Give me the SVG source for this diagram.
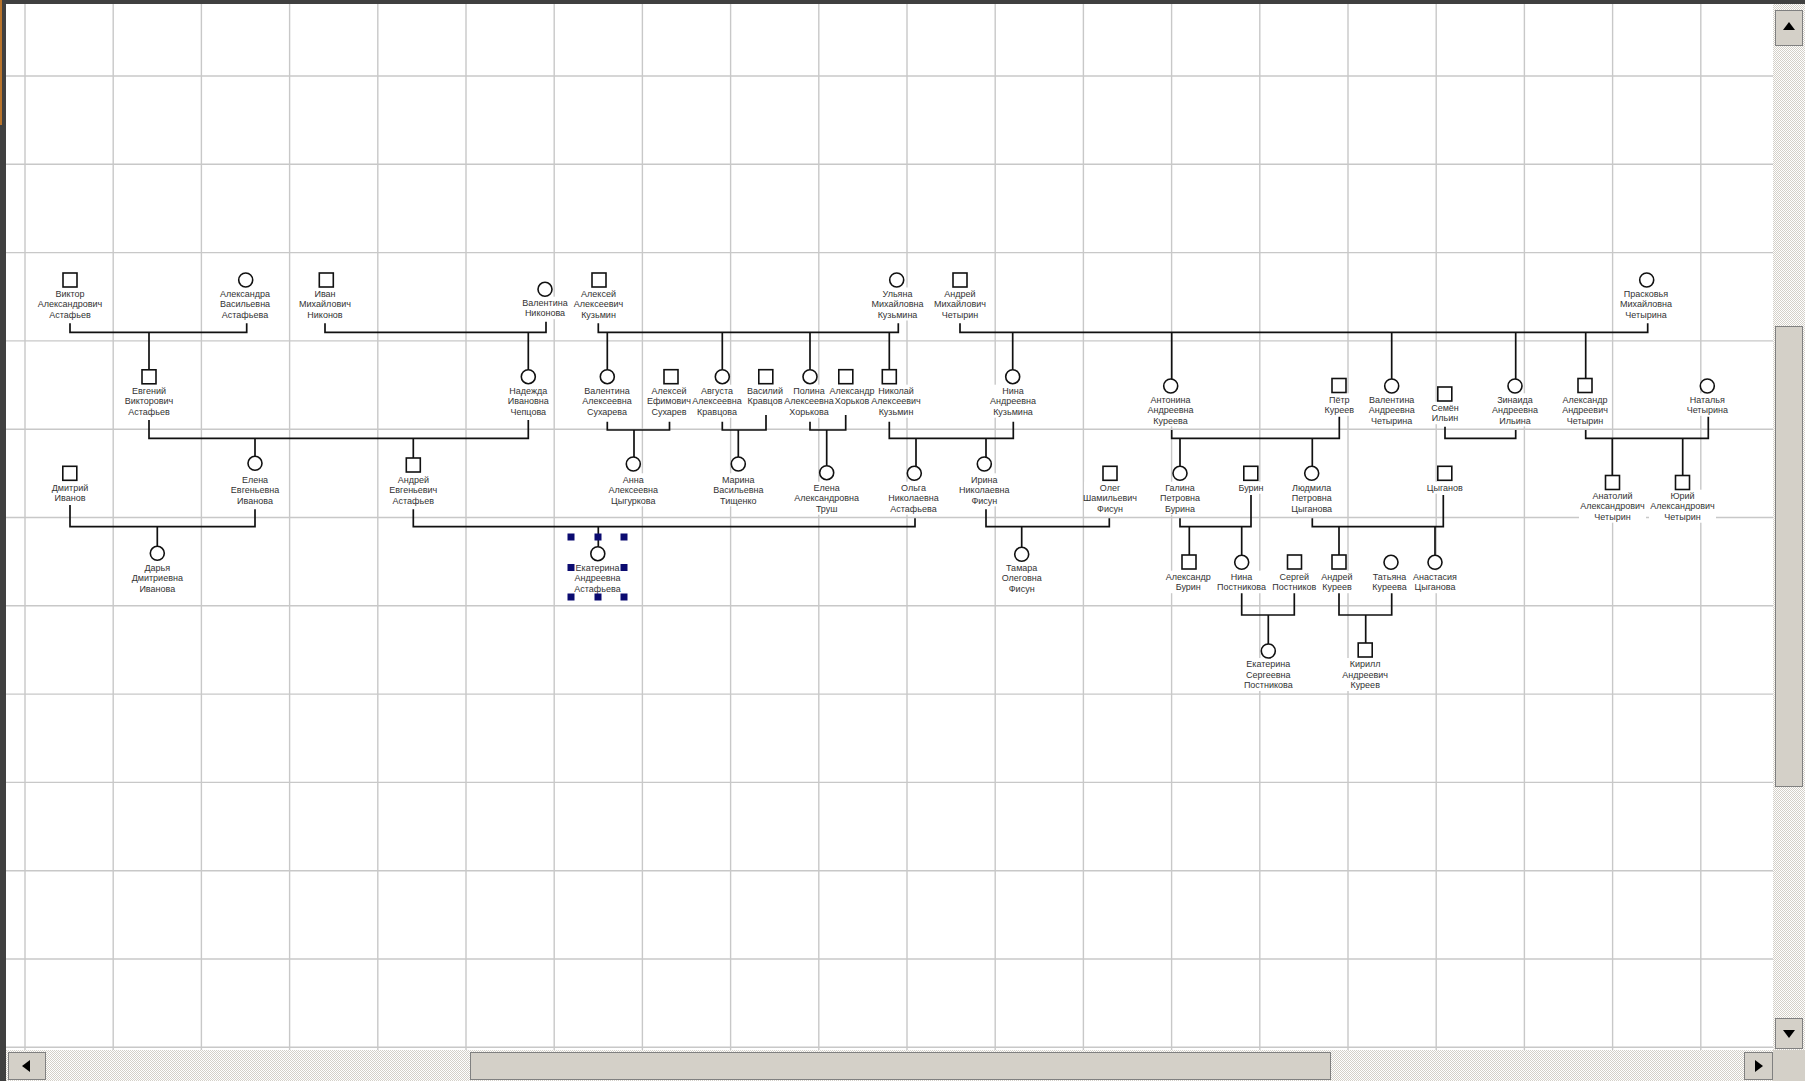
<svg xmlns="http://www.w3.org/2000/svg" width="1805" height="1081" viewBox="0 0 1805 1081">
<defs>
<style>
.t{font-family:"Liberation Sans",Arial,sans-serif;font-size:9px;fill:#333;text-anchor:middle}
.sq{fill:#fff;stroke:#111;stroke-width:1.6}
.ci{fill:#fff;stroke:#111;stroke-width:1.6}
.h{fill:#0b0b70}
.btn{fill:#d4d0c8;stroke:#808080;stroke-width:1}
.arr{fill:#000}
</style>
<pattern id="dither" width="2" height="2" patternUnits="userSpaceOnUse">
<rect width="2" height="2" fill="#ffffff"/>
<rect width="1" height="1" fill="#d4d0c8"/>
<rect x="1" y="1" width="1" height="1" fill="#d4d0c8"/>
</pattern>
</defs>
<rect width="1805" height="1081" fill="#fff"/>
<g id="grid" stroke="#c8c8c8" stroke-width="1.4">
<line x1="25" y1="4" x2="25" y2="1050"/><line x1="113.2" y1="4" x2="113.2" y2="1050"/><line x1="201.4" y1="4" x2="201.4" y2="1050"/><line x1="289.6" y1="4" x2="289.6" y2="1050"/><line x1="377.8" y1="4" x2="377.8" y2="1050"/><line x1="466" y1="4" x2="466" y2="1050"/><line x1="554.2" y1="4" x2="554.2" y2="1050"/><line x1="642.4" y1="4" x2="642.4" y2="1050"/><line x1="730.6" y1="4" x2="730.6" y2="1050"/><line x1="818.8" y1="4" x2="818.8" y2="1050"/><line x1="907" y1="4" x2="907" y2="1050"/><line x1="995.2" y1="4" x2="995.2" y2="1050"/><line x1="1083.4" y1="4" x2="1083.4" y2="1050"/><line x1="1171.6" y1="4" x2="1171.6" y2="1050"/><line x1="1259.8" y1="4" x2="1259.8" y2="1050"/><line x1="1348" y1="4" x2="1348" y2="1050"/><line x1="1436.2" y1="4" x2="1436.2" y2="1050"/><line x1="1524.4" y1="4" x2="1524.4" y2="1050"/><line x1="1612.6" y1="4" x2="1612.6" y2="1050"/><line x1="1700.8" y1="4" x2="1700.8" y2="1050"/>
<line x1="6" y1="76" x2="1773" y2="76"/><line x1="6" y1="164.3" x2="1773" y2="164.3"/><line x1="6" y1="252.6" x2="1773" y2="252.6"/><line x1="6" y1="340.9" x2="1773" y2="340.9"/><line x1="6" y1="429.2" x2="1773" y2="429.2"/><line x1="6" y1="517.5" x2="1773" y2="517.5"/><line x1="6" y1="605.8" x2="1773" y2="605.8"/><line x1="6" y1="694.1" x2="1773" y2="694.1"/><line x1="6" y1="782.4" x2="1773" y2="782.4"/><line x1="6" y1="870.7" x2="1773" y2="870.7"/><line x1="6" y1="959" x2="1773" y2="959"/><line x1="6" y1="1047.3" x2="1773" y2="1047.3"/>
</g>
<g id="label-bg" fill="#fff">
<rect x="36.5" y="287.5" width="67" height="33"/><rect x="219" y="287.5" width="52" height="33"/><rect x="299" y="287.5" width="52" height="33"/><rect x="521.5" y="296.7" width="47" height="22.5"/><rect x="572.5" y="287.5" width="52" height="33"/><rect x="871.5" y="287.5" width="52" height="33"/><rect x="934" y="287.5" width="52" height="33"/><rect x="1620" y="287.5" width="52" height="33"/>
<rect x="123" y="384.7" width="52" height="33"/><rect x="507.3" y="384.7" width="42" height="33"/><rect x="581" y="384.7" width="52" height="33"/><rect x="648.5" y="384.7" width="42" height="33"/><rect x="691" y="384.7" width="52" height="33"/><rect x="746.5" y="384.7" width="37" height="22.5"/><rect x="783" y="384.7" width="52" height="33"/><rect x="828.5" y="384.7" width="47" height="22.5"/><rect x="870" y="384.7" width="52" height="33"/><rect x="989.5" y="384.7" width="47" height="33"/>
<rect x="1147" y="393.3" width="47" height="33"/><rect x="1323.3" y="393.3" width="32" height="22.5"/><rect x="1368.2" y="393.3" width="47" height="33"/><rect x="1431.5" y="401.7" width="27" height="22.5"/><rect x="1491.5" y="393.3" width="47" height="33"/><rect x="1561.5" y="393.3" width="47" height="33"/><rect x="1686.3" y="393.3" width="42" height="22.5"/>
<rect x="51.5" y="481.7" width="37" height="22.5"/><rect x="229" y="473.3" width="52" height="33"/><rect x="387.3" y="473.3" width="52" height="33"/><rect x="607.3" y="473.3" width="52" height="33"/><rect x="712.3" y="473.3" width="52" height="33"/><rect x="793.2" y="481.7" width="67" height="33"/><rect x="887.5" y="481.7" width="52" height="33"/><rect x="958.3" y="473.3" width="52" height="33"/><rect x="1084" y="481.7" width="52" height="33"/><rect x="1159" y="481.7" width="42" height="33"/><rect x="1237.5" y="481.7" width="27" height="12"/><rect x="1290.7" y="481.7" width="42" height="33"/><rect x="1426.3" y="481.7" width="37" height="12"/><rect x="1579" y="489.7" width="67" height="33"/><rect x="1649" y="489.7" width="67" height="33"/>
<rect x="131.3" y="561.3" width="52" height="33"/><rect x="574" y="561.3" width="47" height="33"/><rect x="1000.7" y="561.3" width="42" height="33"/><rect x="1164.8" y="570.7" width="47" height="22.5"/><rect x="1215.5" y="570.7" width="52" height="22.5"/><rect x="1270.8" y="570.7" width="47" height="22.5"/><rect x="1321" y="570.7" width="32" height="22.5"/><rect x="1371" y="570.7" width="37" height="22.5"/><rect x="1411.5" y="570.7" width="47" height="22.5"/>
<rect x="1242.3" y="658" width="52" height="33"/><rect x="1341.5" y="658" width="47" height="33"/>
</g>
<g id="connectors" fill="none" stroke="#111" stroke-width="1.7">
<path d="M70,323.3V332.3H246.7V323.3M149,332.3V369.8"/>
<path d="M325,323.3V332.3H546V321.7M528.3,332.3V369.7"/>
<path d="M598.3,323.3V332.3H898.3V323.3M607.3,332.3V369.7M722.3,332.3V369.7M810,332.3V369.7M889.3,332.3V369.7"/>
<path d="M960,323.3V332.3H1647.7V323.3M1012.7,332.3V369.7M1171.7,332.3V379M1391.7,332.3V379M1515.7,332.3V379M1585.7,332.3V378.5"/>
<path d="M149,420V438.3H528.3V420M255,438.3V456.3M413.3,438.3V458"/>
<path d="M607.3,421.7V430H669.5V421.7M634,430V457"/>
<path d="M722.3,421.7V430H766V415M738.3,430V457"/>
<path d="M810,421.7V430H845.7V415M826.7,430V465.7"/>
<path d="M889.3,421.7V438.3H1013.3V421.7M916,438.3V466.3M986,438.3V457"/>
<path d="M1171.7,430V438.3H1339.3V416.7M1180,438.3V466.3M1312.3,438.3V466.3"/>
<path d="M1445,426.7V438.3H1515.7V430"/>
<path d="M1585.7,430V438.3H1708.3V416.7M1612.3,438.3V475.5M1682.7,438.3V475.5"/>
<path d="M70,505V526.7H255V509.3M157.3,526.7V546.3"/>
<path d="M413.3,509.3V526.7H915V518.3M598.3,526.7V546.7"/>
<path d="M986,509.3V526.7H1109.3V518.3M1021.7,526.7V547.3"/>
<path d="M1180,518.3V526.7H1251V495M1189.3,526.7V555M1241.7,526.7V555.3"/>
<path d="M1312.3,518.3V526.7H1443.3V495M1339,526.7V555M1435,526.7V555.3"/>
<path d="M1241.7,593.3V615H1294.3V593.3M1268.3,615V644"/>
<path d="M1339,593.3V615H1391.7V593.3M1365.7,615V643"/>
</g>
<g id="n-viktor"><rect class="sq" x="63" y="273" width="14" height="14"/><text class="t" x="70" y="296.7"><tspan x="70">Виктор</tspan><tspan x="70" dy="10.5">Александрович</tspan><tspan x="70" dy="10.5">Астафьев</tspan></text></g>
<g id="n-aleksandra"><circle class="ci" cx="245.7" cy="280" r="7"/><text class="t" x="245" y="296.7"><tspan x="245">Александра</tspan><tspan x="245" dy="10.5">Васильевна</tspan><tspan x="245" dy="10.5">Астафьева</tspan></text></g>
<g id="n-ivan"><rect class="sq" x="319.3" y="273" width="14" height="14"/><text class="t" x="325" y="296.7"><tspan x="325">Иван</tspan><tspan x="325" dy="10.5">Михайлович</tspan><tspan x="325" dy="10.5">Никонов</tspan></text></g>
<g id="n-valentina-nikonova"><circle class="ci" cx="545" cy="289.3" r="7"/><text class="t" x="545" y="305.9"><tspan x="545">Валентина</tspan><tspan x="545" dy="10.5">Никонова</tspan></text></g>
<g id="n-aleksei-kuzmin"><rect class="sq" x="592" y="273" width="14" height="14"/><text class="t" x="598.5" y="296.7"><tspan x="598.5">Алексей</tspan><tspan x="598.5" dy="10.5">Алексеевич</tspan><tspan x="598.5" dy="10.5">Кузьмин</tspan></text></g>
<g id="n-ulyana"><circle class="ci" cx="896.7" cy="280" r="7"/><text class="t" x="897.5" y="296.7"><tspan x="897.5">Ульяна</tspan><tspan x="897.5" dy="10.5">Михайловна</tspan><tspan x="897.5" dy="10.5">Кузьмина</tspan></text></g>
<g id="n-andrei-chetyrin"><rect class="sq" x="953" y="273" width="14" height="14"/><text class="t" x="960" y="296.7"><tspan x="960">Андрей</tspan><tspan x="960" dy="10.5">Михайлович</tspan><tspan x="960" dy="10.5">Четырин</tspan></text></g>
<g id="n-praskovya"><circle class="ci" cx="1646.7" cy="280" r="7"/><text class="t" x="1646" y="296.7"><tspan x="1646">Прасковья</tspan><tspan x="1646" dy="10.5">Михайловна</tspan><tspan x="1646" dy="10.5">Четырина</tspan></text></g>
<g id="n-evgeniy"><rect class="sq" x="142" y="369.8" width="14" height="14"/><text class="t" x="149" y="393.9"><tspan x="149">Евгений</tspan><tspan x="149" dy="10.5">Викторович</tspan><tspan x="149" dy="10.5">Астафьев</tspan></text></g>
<g id="n-nadezhda"><circle class="ci" cx="528.3" cy="376.7" r="7"/><text class="t" x="528.3" y="393.9"><tspan x="528.3">Надежда</tspan><tspan x="528.3" dy="10.5">Ивановна</tspan><tspan x="528.3" dy="10.5">Чепцова</tspan></text></g>
<g id="n-valentina-sukhareva"><circle class="ci" cx="607.3" cy="376.7" r="7"/><text class="t" x="607" y="393.9"><tspan x="607">Валентина</tspan><tspan x="607" dy="10.5">Алексеевна</tspan><tspan x="607" dy="10.5">Сухарева</tspan></text></g>
<g id="n-aleksei-sukharev"><rect class="sq" x="664" y="369.7" width="14" height="14"/><text class="t" x="669" y="393.9"><tspan x="669">Алексей</tspan><tspan x="669" dy="10.5">Ефимович</tspan><tspan x="669" dy="10.5">Сухарев</tspan></text></g>
<g id="n-avgusta"><circle class="ci" cx="722.3" cy="376.7" r="7"/><text class="t" x="717" y="393.9"><tspan x="717">Августа</tspan><tspan x="717" dy="10.5">Алексеевна</tspan><tspan x="717" dy="10.5">Кравцова</tspan></text></g>
<g id="n-vasiliy"><rect class="sq" x="758.8" y="369.7" width="14" height="14"/><text class="t" x="765" y="393.9"><tspan x="765">Василий</tspan><tspan x="765" dy="10.5">Кравцов</tspan></text></g>
<g id="n-polina"><circle class="ci" cx="810" cy="376.7" r="7"/><text class="t" x="809" y="393.9"><tspan x="809">Полина</tspan><tspan x="809" dy="10.5">Алексеевна</tspan><tspan x="809" dy="10.5">Хорькова</tspan></text></g>
<g id="n-aleksandr-khorkov"><rect class="sq" x="838.8" y="369.7" width="14" height="14"/><text class="t" x="852" y="393.9"><tspan x="852">Александр</tspan><tspan x="852" dy="10.5">Хорьков</tspan></text></g>
<g id="n-nikolai"><rect class="sq" x="882.3" y="369.7" width="14" height="14"/><text class="t" x="896" y="393.9"><tspan x="896">Николай</tspan><tspan x="896" dy="10.5">Алексеевич</tspan><tspan x="896" dy="10.5">Кузьмин</tspan></text></g>
<g id="n-nina-kuzmina"><circle class="ci" cx="1012.7" cy="376.7" r="7"/><text class="t" x="1013" y="393.9"><tspan x="1013">Нина</tspan><tspan x="1013" dy="10.5">Андреевна</tspan><tspan x="1013" dy="10.5">Кузьмина</tspan></text></g>
<g id="n-antonina"><circle class="ci" cx="1170.7" cy="386" r="7"/><text class="t" x="1170.5" y="402.5"><tspan x="1170.5">Антонина</tspan><tspan x="1170.5" dy="10.5">Андреевна</tspan><tspan x="1170.5" dy="10.5">Куреева</tspan></text></g>
<g id="n-petr"><rect class="sq" x="1332" y="378.5" width="14" height="14"/><text class="t" x="1339.3" y="402.5"><tspan x="1339.3">Пётр</tspan><tspan x="1339.3" dy="10.5">Куреев</tspan></text></g>
<g id="n-valentina-chetyrina"><circle class="ci" cx="1391.7" cy="386" r="7"/><text class="t" x="1391.7" y="402.5"><tspan x="1391.7">Валентина</tspan><tspan x="1391.7" dy="10.5">Андреевна</tspan><tspan x="1391.7" dy="10.5">Четырина</tspan></text></g>
<g id="n-semen"><rect class="sq" x="1437.8" y="387" width="14" height="14"/><text class="t" x="1445" y="410.9"><tspan x="1445">Семён</tspan><tspan x="1445" dy="10.5">Ильин</tspan></text></g>
<g id="n-zinaida"><circle class="ci" cx="1515" cy="386" r="7"/><text class="t" x="1515" y="402.5"><tspan x="1515">Зинаида</tspan><tspan x="1515" dy="10.5">Андреевна</tspan><tspan x="1515" dy="10.5">Ильина</tspan></text></g>
<g id="n-aleksandr-chetyrin"><rect class="sq" x="1578" y="378.5" width="14" height="14"/><text class="t" x="1585" y="402.5"><tspan x="1585">Александр</tspan><tspan x="1585" dy="10.5">Андреевич</tspan><tspan x="1585" dy="10.5">Четырин</tspan></text></g>
<g id="n-natalya"><circle class="ci" cx="1707.3" cy="386" r="7"/><text class="t" x="1707.3" y="402.5"><tspan x="1707.3">Наталья</tspan><tspan x="1707.3" dy="10.5">Четырина</tspan></text></g>
<g id="n-dmitriy"><rect class="sq" x="62.8" y="466.3" width="14" height="14"/><text class="t" x="70" y="490.9"><tspan x="70">Дмитрий</tspan><tspan x="70" dy="10.5">Иванов</tspan></text></g>
<g id="n-elena-ivanova"><circle class="ci" cx="255" cy="463.3" r="7"/><text class="t" x="255" y="482.5"><tspan x="255">Елена</tspan><tspan x="255" dy="10.5">Евгеньевна</tspan><tspan x="255" dy="10.5">Иванова</tspan></text></g>
<g id="n-andrei-astafiev"><rect class="sq" x="406.3" y="458" width="14" height="14"/><text class="t" x="413.3" y="482.5"><tspan x="413.3">Андрей</tspan><tspan x="413.3" dy="10.5">Евгеньевич</tspan><tspan x="413.3" dy="10.5">Астафьев</tspan></text></g>
<g id="n-anna"><circle class="ci" cx="633.3" cy="464" r="7"/><text class="t" x="633.3" y="482.5"><tspan x="633.3">Анна</tspan><tspan x="633.3" dy="10.5">Алексеевна</tspan><tspan x="633.3" dy="10.5">Цыгуркова</tspan></text></g>
<g id="n-marina"><circle class="ci" cx="738.3" cy="464" r="7"/><text class="t" x="738.3" y="482.5"><tspan x="738.3">Марина</tspan><tspan x="738.3" dy="10.5">Васильевна</tspan><tspan x="738.3" dy="10.5">Тищенко</tspan></text></g>
<g id="n-elena-trush"><circle class="ci" cx="826.7" cy="472.7" r="7"/><text class="t" x="826.7" y="490.9"><tspan x="826.7">Елена</tspan><tspan x="826.7" dy="10.5">Александровна</tspan><tspan x="826.7" dy="10.5">Труш</tspan></text></g>
<g id="n-olga"><circle class="ci" cx="914.3" cy="473.3" r="7"/><text class="t" x="913.5" y="490.9"><tspan x="913.5">Ольга</tspan><tspan x="913.5" dy="10.5">Николаевна</tspan><tspan x="913.5" dy="10.5">Астафьева</tspan></text></g>
<g id="n-irina"><circle class="ci" cx="984.3" cy="464" r="7"/><text class="t" x="984.3" y="482.5"><tspan x="984.3">Ирина</tspan><tspan x="984.3" dy="10.5">Николаевна</tspan><tspan x="984.3" dy="10.5">Фисун</tspan></text></g>
<g id="n-oleg"><rect class="sq" x="1103" y="466.3" width="14" height="14"/><text class="t" x="1110" y="490.9"><tspan x="1110">Олег</tspan><tspan x="1110" dy="10.5">Шамильевич</tspan><tspan x="1110" dy="10.5">Фисун</tspan></text></g>
<g id="n-galina"><circle class="ci" cx="1180" cy="473.3" r="7"/><text class="t" x="1180" y="490.9"><tspan x="1180">Галина</tspan><tspan x="1180" dy="10.5">Петровна</tspan><tspan x="1180" dy="10.5">Бурина</tspan></text></g>
<g id="n-burin"><rect class="sq" x="1243.8" y="466.3" width="14" height="14"/><text class="t" x="1251" y="490.9">Бурин</text></g>
<g id="n-lyudmila"><circle class="ci" cx="1311.7" cy="473.3" r="7"/><text class="t" x="1311.7" y="490.9"><tspan x="1311.7">Людмила</tspan><tspan x="1311.7" dy="10.5">Петровна</tspan><tspan x="1311.7" dy="10.5">Цыганова</tspan></text></g>
<g id="n-tsyganov"><rect class="sq" x="1437.8" y="466.3" width="14" height="14"/><text class="t" x="1444.8" y="490.9">Цыганов</text></g>
<g id="n-anatoliy"><rect class="sq" x="1605.5" y="475.5" width="14" height="14"/><text class="t" x="1612.5" y="498.9"><tspan x="1612.5">Анатолий</tspan><tspan x="1612.5" dy="10.5">Александрович</tspan><tspan x="1612.5" dy="10.5">Четырин</tspan></text></g>
<g id="n-yuriy"><rect class="sq" x="1675.5" y="475.5" width="14" height="14"/><text class="t" x="1682.5" y="498.9"><tspan x="1682.5">Юрий</tspan><tspan x="1682.5" dy="10.5">Александрович</tspan><tspan x="1682.5" dy="10.5">Четырин</tspan></text></g>
<g id="n-darya"><circle class="ci" cx="157.3" cy="553.3" r="7"/><text class="t" x="157.3" y="570.5"><tspan x="157.3">Дарья</tspan><tspan x="157.3" dy="10.5">Дмитриевна</tspan><tspan x="157.3" dy="10.5">Иванова</tspan></text></g>
<g id="n-ekaterina-astafieva"><circle class="ci" cx="597.8" cy="553.7" r="7"/><text class="t" x="597.5" y="570.5"><tspan x="597.5">Екатерина</tspan><tspan x="597.5" dy="10.5">Андреевна</tspan><tspan x="597.5" dy="10.5">Астафьева</tspan></text>
<rect class="h" x="567.5" y="533.5" width="7" height="7"/><rect class="h" x="594.5" y="533.5" width="7" height="7"/><rect class="h" x="620.5" y="533.5" width="7" height="7"/><rect class="h" x="567.5" y="564" width="7" height="7"/><rect class="h" x="620.5" y="564" width="7" height="7"/><rect class="h" x="567.5" y="593.5" width="7" height="7"/><rect class="h" x="594.5" y="593.5" width="7" height="7"/><rect class="h" x="620.5" y="593.5" width="7" height="7"/></g>
<g id="n-tamara"><circle class="ci" cx="1021.7" cy="554.3" r="7"/><text class="t" x="1021.7" y="570.5"><tspan x="1021.7">Тамара</tspan><tspan x="1021.7" dy="10.5">Олеговна</tspan><tspan x="1021.7" dy="10.5">Фисун</tspan></text></g>
<g id="n-aleksandr-burin"><rect class="sq" x="1182" y="555" width="14" height="14"/><text class="t" x="1188.3" y="579.9"><tspan x="1188.3">Александр</tspan><tspan x="1188.3" dy="10.5">Бурин</tspan></text></g>
<g id="n-nina-postnikova"><circle class="ci" cx="1241.7" cy="562.3" r="7"/><text class="t" x="1241.5" y="579.9"><tspan x="1241.5">Нина</tspan><tspan x="1241.5" dy="10.5">Постникова</tspan></text></g>
<g id="n-sergei"><rect class="sq" x="1287.5" y="555" width="14" height="14"/><text class="t" x="1294.3" y="579.9"><tspan x="1294.3">Сергей</tspan><tspan x="1294.3" dy="10.5">Постников</tspan></text></g>
<g id="n-andrei-kureev"><rect class="sq" x="1332" y="555" width="14" height="14"/><text class="t" x="1337" y="579.9"><tspan x="1337">Андрей</tspan><tspan x="1337" dy="10.5">Куреев</tspan></text></g>
<g id="n-tatyana"><circle class="ci" cx="1391" cy="562.3" r="7"/><text class="t" x="1389.5" y="579.9"><tspan x="1389.5">Татьяна</tspan><tspan x="1389.5" dy="10.5">Куреева</tspan></text></g>
<g id="n-anastasia"><circle class="ci" cx="1435" cy="562.3" r="7"/><text class="t" x="1435" y="579.9"><tspan x="1435">Анастасия</tspan><tspan x="1435" dy="10.5">Цыганова</tspan></text></g>
<g id="n-ekaterina-postnikova"><circle class="ci" cx="1268.3" cy="651" r="7"/><text class="t" x="1268.3" y="667.2"><tspan x="1268.3">Екатерина</tspan><tspan x="1268.3" dy="10.5">Сергеевна</tspan><tspan x="1268.3" dy="10.5">Постникова</tspan></text></g>
<g id="n-kirill"><rect class="sq" x="1358.2" y="643" width="14" height="14"/><text class="t" x="1365.2" y="667.2"><tspan x="1365.2">Кирилл</tspan><tspan x="1365.2" dy="10.5">Андреевич</tspan><tspan x="1365.2" dy="10.5">Куреев</tspan></text></g>
<g id="frame">
<rect x="0" y="0" width="1805" height="4" fill="#404040"/>
<rect x="0" y="0" width="6" height="1081" fill="#404040"/>
<rect x="0" y="0" width="2" height="125" fill="#b8742c"/>
<rect x="1773" y="4" width="32" height="1046" fill="url(#dither)"/>
<rect x="6" y="1050" width="1767" height="31" fill="url(#dither)"/>
<rect x="1773" y="1050" width="32" height="31" fill="#d4d0c8"/>
<rect class="btn" x="1775.5" y="10.5" width="27" height="35"/>
<path class="arr" d="M1789,22L1783,30H1795Z"/>
<rect class="btn" x="1775.5" y="1018.5" width="27" height="30"/>
<path class="arr" d="M1789,1038L1783,1030H1795Z"/>
<rect class="btn" x="1775.5" y="326.5" width="27" height="460"/>
<rect class="btn" x="8.5" y="1052.5" width="37" height="27"/>
<path class="arr" d="M22,1066L30,1060V1072Z"/>
<rect class="btn" x="1744.5" y="1052.5" width="28" height="27"/>
<path class="arr" d="M1763,1066L1755,1060V1072Z"/>
<rect class="btn" x="470.5" y="1052.5" width="860" height="27"/>
</g>
</svg>
